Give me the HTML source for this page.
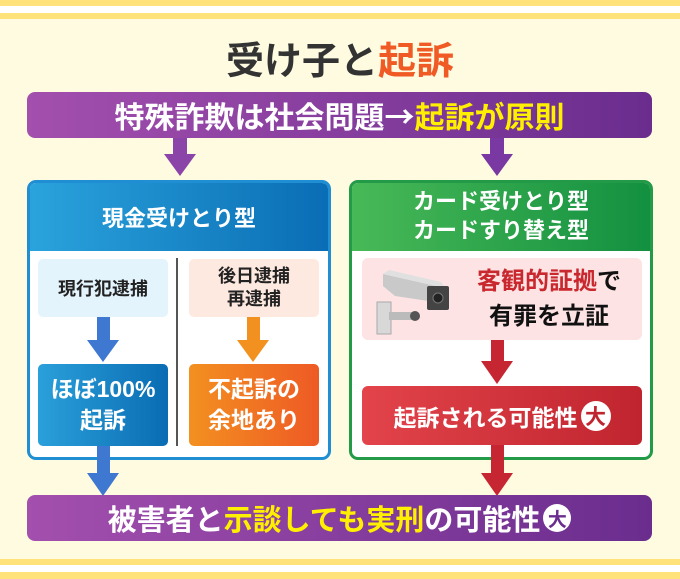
<!DOCTYPE html>
<html><head><meta charset="utf-8"><style>
*{margin:0;padding:0;box-sizing:border-box}
body{width:680px;height:579px;background:#fffbe0;position:relative;overflow:hidden;font-family:"Liberation Sans","Noto Sans CJK JP",sans-serif;font-weight:bold}
.a{position:absolute}
.c{display:flex;align-items:center;justify-content:center;text-align:center}
.bar{background:linear-gradient(90deg,#a34fae,#6a2d8e);border-radius:8px;color:#fff;font-size:30px;letter-spacing:0}
.y{color:#fff000}
.circ{display:inline-flex;width:30px;height:30px;border-radius:50%;background:#fff;align-items:center;justify-content:center;font-size:21px;margin-left:3px}
.ar{font-family:"Noto Sans CJK JP",sans-serif}
</style></head><body>
<div class="a" style="left:0;top:0;width:680px;height:6px;background:#ffe27a"></div>
<div class="a" style="left:0;top:6px;width:680px;height:7px;background:#fff"></div>
<div class="a" style="left:0;top:13px;width:680px;height:6px;background:#ffe27a"></div>
<div class="a" style="left:0;top:559px;width:680px;height:6px;background:#ffe27a"></div>
<div class="a" style="left:0;top:565px;width:680px;height:7px;background:#fff"></div>
<div class="a" style="left:0;top:572px;width:680px;height:7px;background:#ffe27a"></div>

<div class="a c" style="left:0;top:34px;width:680px;height:46px;font-size:38px;color:#333">受け子と<span style="color:#f05a24">起訴</span></div>

<div class="a c bar" style="left:27px;top:92px;width:625px;height:46px">特殊詐欺は社会問題<span class="ar">→</span><span class="y">起訴が原則</span></div>

<!-- left box -->
<div class="a" style="left:27px;top:180px;width:304px;height:280px;border:3px solid #1f8ed3;border-radius:9px;background:#fff;overflow:hidden">
<div class="c" style="height:68px;background:linear-gradient(90deg,#2aa3dc,#0a6db5);color:#fff;font-size:22px">現金受けとり型</div>
</div>
<div class="a c" style="left:38px;top:259px;width:130px;height:58px;background:#e3f4fc;border-radius:5px;font-size:18px;color:#222">現行犯逮捕</div>
<div class="a" style="left:176px;top:258px;width:2px;height:188px;background:#555"></div>
<div class="a c" style="left:189px;top:259px;width:130px;height:58px;background:#fde9df;border-radius:5px;font-size:18px;color:#222;line-height:1.3">後日逮捕<br>再逮捕</div>
<div class="a c" style="left:38px;top:364px;width:130px;height:82px;background:linear-gradient(90deg,#2aa0da,#0a6cb3);border-radius:5px;font-size:23px;color:#fff;line-height:1.35">ほぼ100%<br>起訴</div>
<div class="a c" style="left:189px;top:364px;width:130px;height:82px;background:linear-gradient(90deg,#f39020,#ee5a25);border-radius:5px;font-size:23px;color:#fff;line-height:1.35">不起訴の<br>余地あり</div>

<!-- right box -->
<div class="a" style="left:349px;top:180px;width:304px;height:280px;border:3px solid #229a48;border-radius:9px;background:#fff;overflow:hidden">
<div class="c" style="height:68px;background:linear-gradient(90deg,#48b957,#139040);color:#fff;font-size:22px;line-height:1.3">カード受けとり型<br>カードすり替え型</div>
</div>
<div class="a" style="left:362px;top:258px;width:280px;height:82px;background:#fde3e3;border-radius:6px"></div>
<svg class="a" style="left:375px;top:268px" width="90" height="70">
<rect x="2" y="34" width="14" height="32" fill="#d8d8d8" stroke="#aaa"/>
<rect x="14" y="44" width="26" height="8" fill="#bbb"/>
<circle cx="40" cy="48" r="5" fill="#555"/>
<polygon points="8,6 70,20 74,36 20,28 8,18" fill="#c9c9c9"/>
<polygon points="8,6 70,20 66,14 14,2" fill="#e0e0e0"/>
<rect x="52" y="18" width="22" height="24" fill="#444" rx="2"/>
<circle cx="63" cy="30" r="5" fill="#222" stroke="#777"/>
</svg>
<div class="a c" style="left:462px;top:262px;width:174px;height:76px;font-size:24px;color:#111;line-height:1.45"><div><span style="color:#c8282e">客観的証拠</span>で<br>有罪を立証</div></div>
<div class="a c" style="left:362px;top:386px;width:280px;height:59px;background:linear-gradient(90deg,#e3444b,#c0242e);border-radius:6px;font-size:23px;color:#fff">起訴される可能性<span class="circ" style="color:#c0242e">大</span></div>

<svg class="a" style="left:0;top:0" width="680" height="579">
<polygon points="173,138 187,138 187,154 196,154 180,176 164,154 173,154" fill="#8b45a9"/>
<polygon points="490,138 504,138 504,154 513,154 497,176 481,154 490,154" fill="#7a38a2"/>
<polygon points="97,317 110,317 110,340 119,340 103,362 87,340 97,340" fill="#3f78d0"/>
<polygon points="247,317 260,317 260,340 269,340 253,362 237,340 247,340" fill="#f29120"/>
<polygon points="491,340 504,340 504,361 513,361 497,384 481,361 491,361" fill="#c62632"/>
<polygon points="97,446 110,446 110,473 119,473 103,496 87,473 97,473" fill="#3f78d0"/>
<polygon points="491,445 504,445 504,473 513,473 497,496 481,473 491,473" fill="#c62632"/>
</svg>

<div class="a c bar" style="left:27px;top:495px;width:625px;height:46px;font-size:29px">被害者と<span class="y">示談しても実刑</span>の可能性<span class="circ" style="color:#6a2d8e;width:28px;height:28px;font-size:19px">大</span></div>
</body></html>
